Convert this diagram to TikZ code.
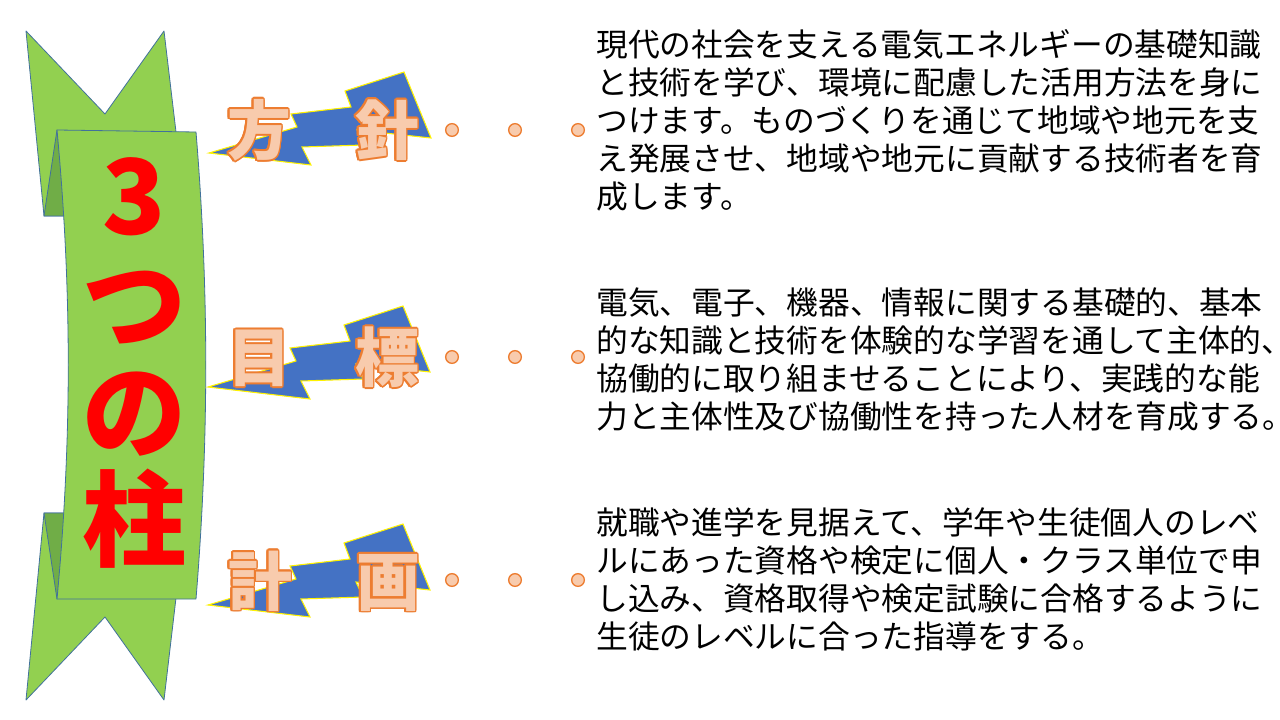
\documentclass[tikz,border=0pt]{standalone}
\usepackage{fontspec}
\setmainfont{Noto Sans CJK JP}
\usepackage{xcolor}
\usepackage{contour}
\contourlength{1.2pt}
\usepackage{tikz}
\usetikzlibrary{positioning}

\definecolor{verde}{HTML}{92D050}
\definecolor{verdeosc}{HTML}{70AD47}
\definecolor{borde}{HTML}{41719C}
\definecolor{azul}{HTML}{4472C4}
\definecolor{naranja}{HTML}{ED7D31}
\definecolor{melocoton}{HTML}{F8CBAD}

\begin{document}
\begin{tikzpicture}[x=0.75pt, y=-0.75pt, node distance=36.75pt,
  cinta/.style={fill=verde, draw=borde, line width=0.6pt, line join=round},
  pliegue/.style={fill=verdeosc, draw=borde, line width=0.6pt, line join=round},
  rayo/.pic={\draw[fill=azul, draw=yellow, line width=0.8pt]
    (0,0) -- (88,-26) -- (82,-39) -- (142,-46) -- (136,-62) -- (195,-81)
    -- (222,-15) -- (148,-23) -- (155,-8) -- (93,-6) -- (102,12) -- cycle;},
  titulo/.style={text=red, font={\fontsize{78}{81}\selectfont\bfseries\lineskiplimit -100pt\relax},
    align=center, inner sep=0pt},
  etiqueta/.style={text=melocoton, font=\fontsize{48}{48}\selectfont\bfseries, inner sep=0pt},
  punto/.style={circle, fill=melocoton, draw=naranja, line width=1pt, minimum size=9.5pt, inner sep=0pt},
  parrafo/.style={anchor=north west, align=left, inner sep=0pt, font=\fontsize{23.8}{28.5}\selectfont}]
\fill[white] (0,0) rectangle (1280,720);
\useasboundingbox (0,0) rectangle (1280,720);

% Cinta
\draw[cinta] (26,31) -- (105,114) -- (164,31) -- (186,216) -- (44,216) -- cycle;
\draw[cinta] (44,513) -- (186,513) -- (164,700) -- (105,617) -- (26,700) -- cycle;
\draw[pliegue] (44,216) -- (57,130) -- (66,216) -- cycle;
\draw[pliegue] (44,513) -- (66,513) -- (57,599) -- cycle;
\draw[cinta] (57,130) -- (196,132) .. controls (209,290) and (209,440) .. (196,599)
  -- (57,599) .. controls (72,440) and (72,290) .. (57,130) -- cycle;
\node[titulo, anchor=south] (t) at (134,569) {3\\つ\\の\\柱};

% Rayos
\coordinate (b1) at (209,153);
\coordinate (b2) at (208,387);
\coordinate (b3) at (208,605);
\pic at (b1) {rayo};
\pic at (b2) {rayo};
\pic at (b3) {rayo};
\node[etiqueta] (l1) at (323,131) {\contour{naranja}{方　針}};
\node[etiqueta] (l2) at (323,358) {\contour{naranja}{目　標}};
\node[etiqueta] (l3) at (324,582) {\contour{naranja}{計　画}};

% Puntos
\node[punto] (d1a) at (452,130) {};
\node[punto, right=of d1a] (d1b) {};
\node[punto, right=of d1b] (d1c) {};
\node[punto] (d2a) at (452,357) {};
\node[punto, right=of d2a] (d2b) {};
\node[punto, right=of d2b] (d2c) {};
\node[punto] (d3a) at (452,580) {};
\node[punto, right=of d3a] (d3b) {};
\node[punto, right=of d3b] (d3c) {};

% Textos
\node[parrafo] (p1) at (596,29) {現代の社会を支える電気エネルギーの基礎知識\\
と技術を学び、環境に配慮した活用方法を身に\\
つけます。ものづくりを通じて地域や地元を支\\
え発展させ、地域や地元に貢献する技術者を育\\
成します。};
\node[parrafo] (p2) at (596,287) {電気、電子、機器、情報に関する基礎的、基本\\
的な知識と技術を体験的な学習を通して主体的、\\
協働的に取り組ませることにより、実践的な能\\
力と主体性及び協働性を持った人材を育成する。};
\node[parrafo] (p3) at (596,507) {就職や進学を見据えて、学年や生徒個人のレベ\\
ルにあった資格や検定に個人・クラス単位で申\\
し込み、資格取得や検定試験に合格するように\\
生徒のレベルに合った指導をする。};
\end{tikzpicture}
\end{document}
